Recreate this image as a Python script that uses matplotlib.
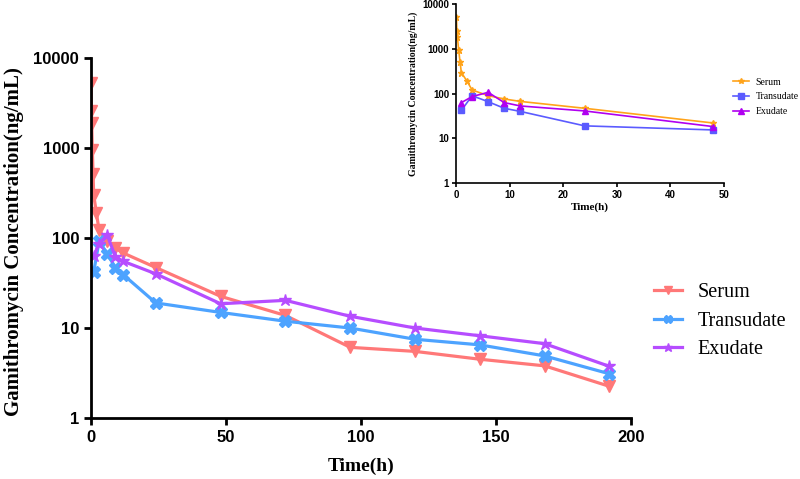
import numpy as np
import matplotlib
matplotlib.use("Agg")
import matplotlib.pyplot as plt
from matplotlib.ticker import NullLocator, FixedLocator

# 主图数据 (0-192 h)
serum_t = [0.083, 0.167, 0.25, 0.5, 0.75, 1, 2, 3, 6, 9, 12, 24, 48, 72, 96, 120, 144, 168, 192]
serum_v = [5300, 2550, 1900, 950, 520, 300, 190, 122, 92, 77, 68, 47, 22.5, 13.8, 6.1, 5.5, 4.5, 3.8, 2.25]
trans_t = [1, 3, 6, 9, 12, 24, 48, 72, 96, 120, 144, 168, 192]
trans_v = [42, 92, 67, 47, 39, 19, 14.9, 11.9, 10, 7.5, 6.5, 4.9, 3.1]
exu_t = [1, 3, 6, 9, 12, 24, 48, 72, 96, 120, 144, 168, 192]
exu_v = [63, 86, 108, 62, 55, 40, 18.6, 20.3, 13.5, 10, 8.2, 6.7, 3.75]

# 小图数据 (0-48 h)
in_serum_t = [0.083, 0.167, 0.25, 0.5, 0.75, 1, 2, 3, 6, 9, 12, 24, 48]
in_serum_v = [5300, 2570, 1890, 950, 520, 295, 195, 121, 90, 76, 67, 47, 22]
in_trans_t = [1, 3, 6, 9, 12, 24, 48]
in_trans_v = [42, 90, 66, 47, 40, 19, 15.4]
in_exu_t = [1, 3, 6, 9, 12, 24, 48]
in_exu_v = [63, 86, 107, 63, 53, 41, 18.3]

labels = ["Serum", "Transudate", "Exudate"]
yticks = [1, 10, 100, 1000, 10000]

SANS = "Liberation Sans"
SERIF = "Liberation Serif"

fig = plt.figure(figsize=(8, 4.79), dpi=100)

# ---- 主图 ----
ax = fig.add_axes([0.11375, 0.1273, 0.675, 0.7516])
h1, = ax.plot(serum_t, serum_v, color="#FF7878", lw=2.3, marker="v", ms=8)
h2, = ax.plot(trans_t, trans_v, color="#4DA3FF", lw=2.3, marker="X", ms=8)
h3, = ax.plot(exu_t, exu_v, color="#B64DFF", lw=2.3, marker="*", ms=9)
ax.set_yscale("log")
ax.set_ylim(1, 10000)
ax.set_xlim(0, 200)
ax.xaxis.set_major_locator(FixedLocator([0, 50, 100, 150, 200]))
ax.yaxis.set_major_locator(FixedLocator(yticks))
ax.yaxis.set_minor_locator(NullLocator())
ax.set_yticklabels([str(v) for v in yticks])
for s in ["top", "right"]:
    ax.spines[s].set_visible(False)
for s in ["left", "bottom"]:
    ax.spines[s].set_linewidth(2)
ax.tick_params(width=2, length=5, labelsize=12)
for lab in ax.get_xticklabels() + ax.get_yticklabels():
    lab.set_fontfamily(SANS)
    lab.set_fontweight("bold")
ax.set_xlabel("Time(h)", fontfamily=SERIF, fontweight="bold", fontsize=14, labelpad=9)
ax.set_ylabel("Gamithromycin Concentration(ng/mL)", fontfamily=SERIF,
              fontweight="bold", fontsize=15)
ax.yaxis.set_label_coords(-0.124, 0.49)
fig.legend([h1, h2, h3], labels, loc="center left",
           bbox_to_anchor=(654 / 800, 1 - 321 / 479), frameon=False,
           prop={"family": SERIF, "size": 14.5}, handlelength=1.4,
           handletextpad=0.75, labelspacing=0.46, borderpad=0, borderaxespad=0,
           markerscale=0.7)

# ---- 小图 ----
ax2 = fig.add_axes([0.57, 0.618, 0.335, 0.373])
g1, = ax2.plot(in_serum_t, in_serum_v, color="#FFA31A", lw=1.2, marker="*", ms=5)
g2, = ax2.plot(in_trans_t, in_trans_v, color="#5B5BFF", lw=1.2, marker="s", ms=5)
g3, = ax2.plot(in_exu_t, in_exu_v, color="#B000F0", lw=1.2, marker="^", ms=5)
ax2.set_yscale("log")
ax2.set_ylim(1, 10000)
ax2.set_xlim(0, 50)
ax2.xaxis.set_major_locator(FixedLocator([0, 10, 20, 30, 40, 50]))
ax2.yaxis.set_major_locator(FixedLocator(yticks))
ax2.yaxis.set_minor_locator(NullLocator())
ax2.set_yticklabels([str(v) for v in yticks])
for s in ["top", "right"]:
    ax2.spines[s].set_visible(False)
for s in ["left", "bottom"]:
    ax2.spines[s].set_linewidth(1.2)
ax2.tick_params(width=1.2, length=3, labelsize=7, pad=2)
for lab in ax2.get_xticklabels() + ax2.get_yticklabels():
    lab.set_fontfamily(SANS)
    lab.set_fontweight("bold")
ax2.set_xlabel("Time(h)", fontfamily=SERIF, fontweight="bold", fontsize=8, labelpad=2)
ax2.set_ylabel("Gamithromycin Concentration(ng/mL)", fontfamily=SERIF,
               fontweight="bold", fontsize=7, labelpad=3)
fig.legend([g1, g2, g3], labels, loc="center left",
           bbox_to_anchor=(733 / 800, 1 - 97 / 479), frameon=False,
           prop={"family": SERIF, "size": 7}, handlelength=1.6,
           handletextpad=0.75, labelspacing=0.6, borderpad=0, borderaxespad=0,
           markerscale=0.8)

fig.savefig("out.png", dpi=100)
